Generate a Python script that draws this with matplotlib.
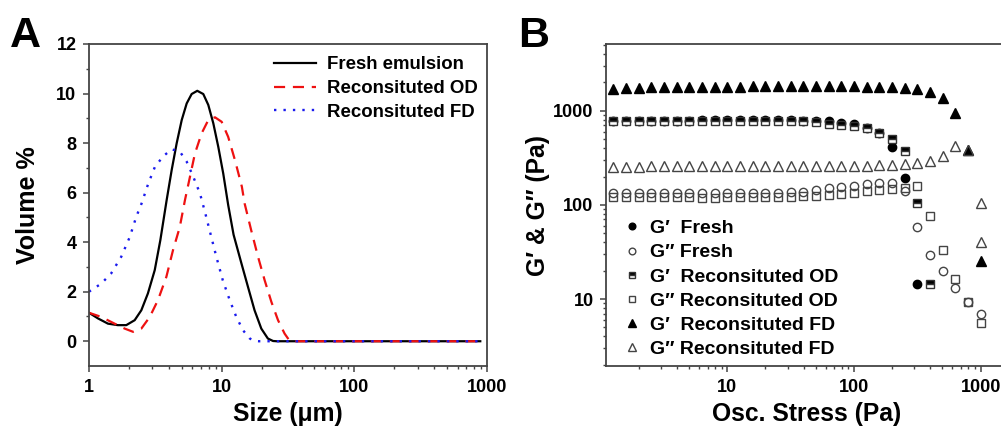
import matplotlib
matplotlib.use('Agg')
import matplotlib.pyplot as plt
from matplotlib.ticker import LogLocator, NullFormatter, FixedLocator, FixedFormatter

plt.rcParams['font.family'] = ['Liberation Sans', 'DejaVu Sans']
plt.rcParams['font.weight'] = 'bold'

# ---- panel A: particle size distribution ----
fresh_x = [1.0, 1.17, 1.39, 1.65, 1.91, 2.21, 2.48, 2.78, 3.13, 3.45, 3.85, 4.20, 4.58, 5.0,
           5.45, 5.94, 6.55, 7.27, 7.93, 8.65, 9.43, 10.28, 11.2, 12.3, 14.1, 15.8, 17.7,
           19.9, 22.3, 24.4, 26, 890]
fresh_y = [1.15, 0.92, 0.71, 0.65, 0.65, 0.85, 1.25, 1.93, 2.87, 4.08, 5.70, 6.91, 7.99, 8.93,
           9.60, 9.98, 10.11, 9.98, 9.54, 8.80, 7.85, 6.77, 5.5, 4.3, 3.14, 2.19, 1.25,
           0.51, 0.11, 0.01, 0.0, 0.0]
od_x = [1.0, 1.24, 1.56, 1.86, 2.15, 2.48, 2.87, 3.31, 3.83, 4.30, 4.83, 5.29, 5.77, 6.29,
        7.06, 7.93, 8.91, 10.0, 11.2, 12.6, 14.2, 14.9, 16.7, 18.8, 21.1, 23.7, 26.6,
        29.8, 32.5, 35, 890]
od_y = [1.15, 0.98, 0.71, 0.51, 0.38, 0.51, 0.98, 1.66, 2.60, 3.68, 4.6, 5.70, 6.64, 7.58,
        8.39, 8.93, 9.04, 8.86, 8.25, 7.31, 6.24, 5.56, 4.48, 3.41, 2.46, 1.59, 0.85,
        0.31, 0.02, 0.0, 0.0]
fd_x = [1.0, 1.24, 1.47, 1.75, 2.03, 2.27, 2.49, 2.80, 3.14, 3.63, 4.20, 4.85, 5.45, 6.11,
        6.86, 7.5, 8.11, 9.12, 10.2, 11.5, 12.9, 14.5, 16.3, 17.7, 19, 890]
fd_y = [2.0, 2.33, 2.74, 3.41, 4.21, 5.02, 5.56, 6.37, 7.04, 7.47, 7.75, 7.65, 7.25, 6.64,
        5.97, 5.2, 4.48, 3.41, 2.46, 1.66, 0.98, 0.44, 0.11, 0.01, 0.0, 0.0]

# ---- panel B: stress sweep ----
stress = [1.26, 1.58, 2.0, 2.51, 3.16, 3.98, 5.01, 6.31, 7.94, 10, 12.6, 15.8, 20, 25.1, 31.6,
          39.8, 50.1, 63.1, 79.4, 100, 126, 158, 200, 251, 316, 398, 501, 631, 794, 1000]
g1_fresh = [775, 780, 783, 783, 783, 785, 788, 790, 790, 790, 790, 792, 792, 790, 790,
            788, 785, 780, 751, 722, 654, 579, 411, 192, 14.6]
g2_fresh = [133, 133, 133, 133, 133, 133, 133, 133, 133, 133, 133, 134, 134, 135, 136,
            138, 144, 150, 155, 160, 168, 171, 170, 139, 58, 29.7, 20, 13, 9.4, 6.9]
g1_od = [770, 775, 778, 778, 778, 780, 782, 782, 782, 782, 782, 783, 783, 780, 775,
         770, 757, 730, 700, 690, 650, 575, 500, 375, 104, 14.3]
g2_od = [120, 120, 120, 120, 120, 120, 120, 119, 119, 120, 121, 121, 121, 121, 122,
         123, 124, 127, 131, 135, 140, 145, 148, 150, 157, 76.4, 33, 16.2, 9.4, 5.6]
g1_fd = [1700, 1740, 1760, 1770, 1780, 1790, 1790, 1800, 1800, 1810, 1810, 1815, 1815, 1815, 1815,
         1815, 1815, 1815, 1815, 1815, 1810, 1810, 1790, 1760, 1713, 1600, 1385, 945, 385, 25.6]
g2_fd_x = stress + [1000]
g2_fd = [255, 255, 255, 256, 256, 257, 258, 258, 259, 260, 262, 262, 262, 262, 262,
         262, 260, 260, 260, 260, 262, 265, 267, 270, 278, 294, 327, 424, 385, 106, 40.5]

fig = plt.figure(figsize=(10.01, 4.33), dpi=100)

spine_c = '#444444'
tick_fs = 13
lab_fs = 17.7

# panel A
ax1 = fig.add_axes([0.0889, 0.1547, 0.3976, 0.7437])
ax1.plot(fresh_x, fresh_y, color='black', lw=1.6, label='Fresh emulsion')
ax1.plot(od_x, od_y, color='#ee1111', lw=1.6, ls=(0, (5, 3.5)), label='Reconsituted OD')
ax1.plot(fd_x, fd_y, color='#1a1aee', lw=1.7, ls=(0, (1, 3)), label='Reconsituted FD')
ax1.set_xscale('log')
ax1.set_xlim(1, 1000)
ax1.set_ylim(-1, 12)
ax1.yaxis.set_major_locator(FixedLocator([0, 2, 4, 6, 8, 10, 12]))
ax1.yaxis.set_minor_locator(FixedLocator([1, 3, 5, 7, 9, 11]))
ax1.xaxis.set_major_locator(FixedLocator([1, 10, 100, 1000]))
ax1.xaxis.set_major_formatter(FixedFormatter(['1', '10', '100', '1000']))
ax1.xaxis.set_minor_locator(LogLocator(base=10, subs=range(2, 10)))
ax1.xaxis.set_minor_formatter(NullFormatter())
ax1.set_xlabel('Size (\u03bcm)', fontsize=lab_fs, fontweight='bold', labelpad=5)
ax1.set_ylabel('Volume %', fontsize=18, fontweight='bold', labelpad=12)
ax1.legend(loc='upper right', frameon=False, handlelength=2.3,
           bbox_to_anchor=(0.995, 0.985), borderaxespad=0.0, handletextpad=0.55,
           labelspacing=0.36, prop={'weight': 'bold', 'size': 13.4})

# panel B
ax2 = fig.add_axes([0.6054, 0.1547, 0.4, 0.7437])
ms = 6
ax2.plot(stress[:len(g1_fresh)], g1_fresh, 'o', ms=ms, mfc='black', mec='black', label='G\u2032  Fresh')
ax2.plot(stress, g2_fresh, 'o', ms=ms, mfc='none', mec='#444444', mew=1.0, label='G\u2033 Fresh')
ax2.plot(stress[:len(g1_od)], g1_od, 's', ms=5.5, fillstyle='top', mfc='black', mfcalt='white',
         mec='#333333', mew=1.0, label='G\u2032  Reconsituted OD')
ax2.plot(stress, g2_od, 's', ms=5.5, mfc='none', mec='#444444', mew=1.0, label='G\u2033 Reconsituted OD')
ax2.plot(stress, g1_fd, '^', ms=7, mfc='black', mec='black', label='G\u2032  Reconsituted FD')
ax2.plot(g2_fd_x, g2_fd, '^', ms=7, mfc='none', mec='#444444', mew=1.0, label='G\u2033 Reconsituted FD')
ax2.set_xscale('log')
ax2.set_yscale('log')
ax2.set_xlim(1.1, 1600)
ax2.set_ylim(1.94, 5130)
ax2.xaxis.set_major_locator(FixedLocator([10, 100, 1000]))
ax2.xaxis.set_major_formatter(FixedFormatter(['10', '100', '1000']))
ax2.xaxis.set_minor_locator(LogLocator(base=10, subs=range(2, 10)))
ax2.xaxis.set_minor_formatter(NullFormatter())
ax2.yaxis.set_major_locator(FixedLocator([10, 100, 1000]))
ax2.yaxis.set_major_formatter(FixedFormatter(['10', '100', '1000']))
ax2.yaxis.set_minor_locator(LogLocator(base=10, subs=range(2, 10)))
ax2.yaxis.set_minor_formatter(NullFormatter())
ax2.set_xlabel('Osc. Stress (Pa)', fontsize=lab_fs, fontweight='bold', labelpad=5)
ax2.set_ylabel('G\u2032 & G\u2033 (Pa)', fontsize=lab_fs, fontweight='bold', labelpad=2)
ax2.legend(loc='lower left', frameon=False, handlelength=1.0, markerscale=0.8,
           bbox_to_anchor=(0.02, 0.0), borderaxespad=0.0, handletextpad=0.45,
           labelspacing=0.34, prop={'weight': 'bold', 'size': 14})

for ax in (ax1, ax2):
    for s in ax.spines.values():
        s.set_color(spine_c)
        s.set_linewidth(1.3)
    ax.tick_params(which='major', direction='out', length=4, width=1.1, color=spine_c,
                   labelsize=tick_fs, pad=5)
    ax.tick_params(which='minor', direction='out', length=2.5, width=1.0, color=spine_c)
    for lab in ax.get_xticklabels() + ax.get_yticklabels():
        lab.set_fontweight('bold')

fig.text(0.010, 0.962, 'A', fontsize=31, fontweight='bold', va='top', ha='left')
fig.text(0.518, 0.962, 'B', fontsize=31, fontweight='bold', va='top', ha='left')

fig.savefig('out.png', dpi=100)
